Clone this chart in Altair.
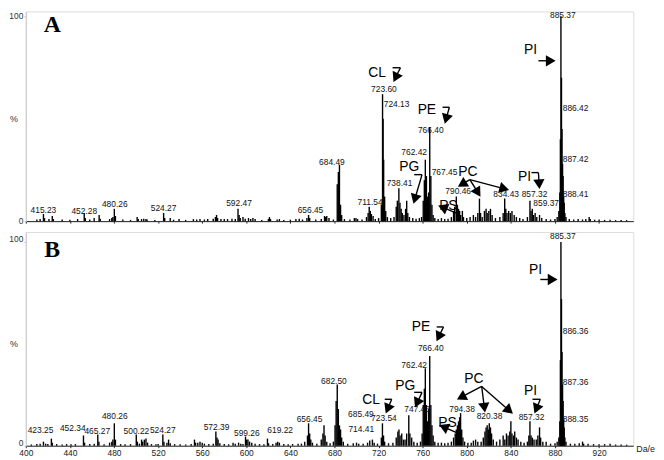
import math
import altair as alt
import pandas as pd

# ---------------- data ----------------
a_mz = [410, 413, 416, 417, 421, 424, 425, 433, 440, 447, 453, 454, 458, 462, 466.5, 467.5, 476, 478, 479, 480.3, 481.3,
        488, 495, 501, 502, 505, 507, 509, 510, 517, 525, 526, 531, 534, 539, 545, 552, 555, 558, 562, 565, 570, 572, 573,
        574, 577, 580, 583, 587, 590, 592.5, 593.5, 594.5, 597, 599, 602, 604, 606, 608, 614, 620, 621, 622, 628, 630, 634,
        640, 645, 648, 651, 655, 656.5, 657.5, 663, 668, 671, 672, 673, 675, 679, 682.5, 683.5, 684.5, 685.5, 686.5, 689,
        694, 698, 699.5, 701, 705, 709, 710.5, 711.5, 712.5, 713.5, 715, 717, 720, 722.5, 723.6, 724.1, 724.6, 725.5, 726.5,
        728, 731, 734, 736, 737, 738.4, 739.4, 740.5, 741.5, 743, 744.5, 745.5, 746.5, 748, 751, 754, 757, 759, 760.5, 761.5,
        762.4, 763.4, 764.4, 765.4, 766.4, 767.4, 768.4, 769.5, 771, 774, 777, 780, 783, 786, 788, 789, 790.5, 791.5, 792.5,
        793.5, 794.5, 796, 797, 800, 803, 806, 808, 810, 811.5, 812.5, 814, 816, 817.5, 818.5, 820, 821.5, 823, 826, 830,
        833, 834.4, 835.4, 836.5, 838, 839.5, 841, 843, 845, 848, 851, 855, 857.3, 858.3, 859.4, 860.5, 862, 863.5, 866,
        868, 872, 876, 880, 882, 883.5, 884.4, 884.9, 885.4, 885.9, 886.4, 886.9, 887.4, 887.9, 888.4, 889, 890, 893, 897,
        901, 905, 908, 911, 912, 916, 920, 925, 930, 935, 940, 945]
a_int = [0.8, 1, 3.5, 1.5, 1, 2.5, 1, 0.8, 0.7, 1, 4, 1.5, 0.8, 1.5, 3, 1.2, 1, 1.5, 2, 6, 2.5,
         0.8, 0.6, 2, 1, 1, 1.2, 1, 0.8, 0.6, 4, 1.5, 1.5, 0.7, 1, 0.6, 1, 0.8, 1, 0.8, 1, 1.2, 2, 3,
         1.5, 1, 1, 1, 1.2, 1, 6, 3, 1.5, 2, 1.2, 1.5, 1, 1.5, 1, 0.6, 1, 2, 1, 0.8, 1, 0.6,
         0.7, 1, 1.2, 0.8, 1.5, 3, 1.5, 0.8, 1, 2.5, 2, 2.5, 1.5, 0.8, 18, 24, 27.5, 8, 3, 1,
         0.8, 1.5, 1.5, 1, 0.8, 2, 4, 7, 5, 3.5, 2.5, 1, 1.5, 8, 62, 50, 30, 12, 5,
         2, 1.5, 2, 7, 10, 16, 9, 6, 4, 3, 6, 10, 4, 2, 1.5, 1.2, 1.5, 2, 10, 20,
         30, 22, 12, 14, 46, 22, 8, 3, 1.5, 1, 1.5, 1, 1.2, 2, 5, 7, 12, 8, 6,
         5, 3, 5, 2, 1.5, 2, 3, 2, 4, 11, 4, 2, 5, 6, 4, 5, 6, 3, 1.5, 2,
         4, 11, 6, 4, 5, 4, 5, 3, 2, 1.5, 1, 2, 10, 5, 6, 3, 4, 2, 3,
         1.5, 1, 0.8, 1, 2, 5, 14, 40, 100, 70, 45, 28, 22, 12, 9, 4, 2, 1, 0.8,
         1, 0.8, 1, 2, 1, 0.7, 0.8, 0.6, 0.7, 0.5, 0.6, 0.5]

b_mz = [405, 410, 413, 416, 418, 420, 423.2, 424, 428, 433, 437, 441, 445, 452.3, 453.3, 458, 462, 465.3, 466.3, 471,
        476, 478, 479, 480.3, 481.3, 486, 490, 495, 500.2, 501.2, 503, 505, 506, 507.5, 509, 510.5, 514, 518, 520, 524.3,
        525.3, 528, 529.5, 531, 535, 540, 545, 550, 553, 554, 556, 558, 560, 562, 566, 570, 572.4, 573.4, 574.4, 576, 580,
        584, 588, 590, 593, 595, 597, 599.3, 600.3, 601.5, 603, 605, 608, 612, 616, 619.2, 620.2, 624, 627, 628.5, 630, 634,
        638, 642, 647, 650, 653, 655.5, 656.5, 657.5, 658.5, 660, 664, 668, 669.5, 670.5, 671.5, 673, 676, 679, 680.5,
        681.5, 682.5, 683.5, 684.5, 685.5, 686.5, 688, 692, 697, 700, 702, 706, 710, 712, 714.4, 716, 719, 722.5, 723.5,
        724.5, 725.5, 729, 733, 736, 737.5, 738.5, 739.5, 741, 742.5, 744, 745.5, 747.4, 748.4, 750, 752, 755, 758, 759.5,
        760.5, 761.5, 762.4, 763.4, 764.4, 765.4, 766.4, 767.4, 768.4, 769.5, 771, 774, 777, 780, 783, 786, 788, 789.5,
        790.5, 791.5, 792.5, 793.5, 794.4, 795.4, 796.5, 798, 801, 804, 806, 808, 810, 813, 815, 816.5, 817.5, 818.5,
        819.5, 820.4, 821.5, 822.5, 824, 827, 830, 833, 834.5, 836, 837.5, 839, 840, 841, 842.5, 843.5, 845, 846.5, 849,
        852, 855, 856.3, 857.3, 858.3, 859.5, 861, 863, 864.5, 866, 867, 869, 872, 876, 880, 882, 883.5, 884.4, 884.9,
        885.4, 885.9, 886.4, 886.9, 887.4, 887.9, 888.4, 889, 890, 894, 898, 902, 905, 906, 910, 915, 920, 925, 930, 935,
        940, 945]
b_int = [0.6, 0.8, 1, 2, 1, 0.8, 3.5, 1.5, 0.8, 0.6, 0.8, 0.7, 0.8, 5, 1.5, 0.8, 1, 5.5, 2, 0.7,
         1.5, 2, 3, 11, 3, 0.8, 0.7, 0.8, 5.5, 2, 1, 3, 2, 3, 3.5, 1.5, 0.8, 0.7, 0.8, 5.5,
         2, 1.5, 3, 1.2, 0.8, 0.7, 0.6, 0.8, 3, 1.5, 1.5, 2, 1.5, 1, 0.8, 1, 7, 4, 3, 1.2, 0.8,
         0.7, 1.5, 1, 1.5, 1, 0.8, 4.5, 3, 3, 2, 1.5, 1, 0.8, 0.7, 3.5, 1.2, 0.8, 1.5, 2, 1.5, 0.8,
         0.7, 0.8, 1, 1, 2, 5, 11, 6, 3, 1.5, 1, 3, 6, 10, 5, 2, 1.2, 2, 10,
         22, 30, 18, 10, 8, 4, 2, 1, 1.2, 1.5, 1, 1, 1.5, 2.5, 3, 1.5, 1, 4, 11,
         5, 2, 1.2, 1.5, 4, 7, 8, 5, 6, 3, 3, 6, 15, 6, 4, 2, 1.5, 2, 6,
         20, 28, 38, 20, 12, 18, 44, 20, 10, 5, 2, 1.5, 1.5, 1.2, 1.5, 2, 4, 6,
         8, 10, 12, 14, 16, 8, 4, 2, 1.5, 1.5, 2.5, 3, 2, 2, 4, 7, 9, 10,
         8, 11, 9, 6, 3, 2, 3, 5, 3, 6, 5, 7, 12, 6, 5, 7, 4, 3, 2,
         1.5, 2, 5, 12, 5, 4, 3, 3, 5, 9, 4, 2, 2, 1, 1.2, 2, 4, 12, 42,
         100, 72, 46, 30, 22, 13, 9, 4, 2, 1, 1, 1.2, 2, 1, 1, 0.8, 0.7, 0.8, 1, 0.6,
         0.6, 0.5]

# peak labels (text, m/z position, % position)
a_lab_text = ["415.23", "452.28", "480.26", "524.27", "592.47", "656.45", "684.49", "711.54", "723.60", "724.13",
              "738.41", "762.42", "766.40", "767.45", "790.46", "834.43", "857.32", "859.37", "885.37", "886.42",
              "887.42", "888.41"]
a_lab_x = [416, 453, 480.7, 525, 593.4, 658.2, 677.7, 712.3, 724.8, 736.3,
           739, 752.3, 767.3, 779.8, 792.2, 835.7, 861.4, 872, 887.1, 898.7, 898.7, 898.7]
a_lab_y = [5.3, 4.8, 8.2, 6.3, 8.7, 5.3, 29, 9.2, 64.3, 57,
           18.4, 33.8, 44.4, 24.2, 14.8, 13, 13, 8.7, 101.9, 55, 30.4, 13]

b_lab_text = ["423.25", "452.34", "465.27", "480.26", "500.22", "524.27", "572.39", "599.26", "619.22", "656.45",
              "682.50", "685.49", "714.41", "723.54", "747.43", "762.42", "766.40", "794.38", "820.38", "857.32",
              "885.37", "886.36", "887.36", "888.35"]
b_lab_x = [413.3, 442.6, 464.8, 480.7, 500.3, 524.2, 573, 600.5, 630.7, 657.3,
           679.5, 704, 704.3, 724.8, 754.9, 752.3, 767.3, 795.7, 820.6, 858.7,
           887.1, 898.7, 898.7, 898.7]
b_lab_y = [7.8, 8.7, 7.3, 14.6, 7.3, 7.8, 9.2, 6.3, 7.8, 13.1,
           31.6, 15.6, 8.0, 13.6, 18, 39.8, 48.1, 18, 14.6, 14.1,
           102.4, 56.3, 31.1, 13.1]

# lipid class annotations
a_ann_text = ["CL", "PE", "PG", "PC", "PS", "PI", "PI"]
a_ann_x = [718.6, 763.8, 747.8, 801, 783.3, 857.9, 852.5]
a_ann_y = [72.5, 54.1, 26.6, 24.2, 7.6, 83.6, 21.7]

b_ann_text = ["CL", "PE", "PG", "PC", "PS", "PI", "PI"]
b_ann_x = [713.2, 758.5, 744.3, 806.4, 782.4, 862.3, 857.9]
b_ann_y = [22.2, 58.3, 29.1, 32.5, 11.2, 86.4, 26.7]

# arrows: polylines of (m/z, %) points, head at last point
a_arrows = [
    [(732.7, 74.9), (739.8, 74.9), (734.5, 69.1)],   # CL
    [(778.0, 55.6), (784.2, 55.6), (780.7, 48.8)],   # PE
    [(752.3, 22.7), (759.4, 22.7), (752.3, 9.7)],    # PG
    [(802.8, 20.3), (793.9, 17.4)],                  # PC
    [(802.8, 20.3), (811.2, 13.0)],                  # PC
    [(802.8, 20.3), (836.1, 15.5)],                  # PC
    [(790.4, 3.9), (776.2, 7.2)],                    # PS
    [(865.0, 78.3), (878.3, 78.3)],                  # PI
    [(858.7, 23.7), (865.0, 23.7), (865.8, 16.9)],   # PI
]
b_arrows = [
    [(772.7, 58.3), (778.9, 58.3), (773.6, 52.4)],   # PE
    [(752.3, 26.2), (759.4, 26.2), (754.0, 19.9)],   # PG
    [(725.6, 22.8), (731.9, 22.8), (727.4, 17.0)],   # CL
    [(813.5, 29.1), (793.1, 23.3)],                  # PC
    [(813.5, 29.1), (816.2, 17.5)],                  # PC
    [(813.5, 29.1), (840.1, 16.5)],                  # PC
    [(791.3, 6.3), (777.1, 9.7)],                    # PS
    [(866.7, 81.6), (880.0, 81.6)],                  # PI
    [(859.6, 22.8), (866.7, 22.8), (862.3, 17.0)],   # PI
]

# ---------------- layout / style ----------------
X_DOMAIN = [400, 951]
W = 614
FONT = "Liberation Sans"
xs = alt.Scale(domain=X_DOMAIN, nice=False, zero=False)


def arrow_frames(arrows, sx, sy, back=4.0):
    segs, heads = [], []
    for pts in arrows:
        for i in range(len(pts) - 1):
            (x1, y1), (x2, y2) = pts[i], pts[i + 1]
            if i == len(pts) - 2:
                dxp, dyp = (x2 - x1) * sx, (y2 - y1) * sy
                L = math.hypot(dxp, dyp)
                ux, uy = dxp / L, dyp / L
                cx, cy = x2 - back * ux / sx, y2 - back * uy / sy
                ang = math.degrees(math.atan2(ux, uy)) % 360
                heads.append({"x": cx, "y": cy, "ang": ang})
                segs.append({"x": x1, "y": y1, "x2": cx, "y2": cy})
            else:
                segs.append({"x": x1, "y": y1, "x2": x2, "y2": y2})
    return pd.DataFrame(segs), pd.DataFrame(heads)


def panel(mz, inten, lt, lx, ly, at, ax, ay, arrows, letter, ytop, H, bottom):
    ys = alt.Scale(domain=[0, ytop], nice=False, zero=True)
    sx = W / (X_DOMAIN[1] - X_DOMAIN[0])
    sy = H / ytop
    peaks = pd.DataFrame({"x": mz, "y": inten, "y0": [0] * len(mz)})
    if bottom:
        xaxis = alt.Axis(values=list(range(400, 941, 10)), title=None, grid=False, tickSize=2,
                         labelPadding=1, labelFontSize=8.5, labelFont=FONT, labelColor="#222",
                         domainColor="#222", tickColor="#222", labelOverlap=False, labelFlush=False,
                         labelExpr="datum.value % 20 == 0 ? datum.label : ''")
    else:
        xaxis = alt.Axis(values=list(range(400, 951, 10)), title=None, grid=False, tickSize=2,
                         labels=False, domainColor="#222", tickColor="#222")
    yaxis = alt.Axis(values=[0, 100], title=None, grid=False, tickSize=2, labelPadding=1,
                     labelFontSize=8.5, labelFont=FONT, labelColor="#333",
                     labelOffset=(-3 if bottom else -1),
                     domainColor="#c8c8c8", tickColor="#c8c8c8")
    base = alt.Chart(peaks).mark_rule(color="black", strokeWidth=1.4).encode(
        x=alt.X("x:Q", scale=xs, axis=xaxis),
        y=alt.Y("y:Q", scale=ys, axis=yaxis),
        y2="y0:Q",
    )
    labs = pd.DataFrame({"x": lx, "y": ly, "t": lt})
    top_lab = labs[labs["y"] > 100]
    rest = labs[labs["y"] <= 100]
    lab_layer = alt.Chart(rest).mark_text(font=FONT, fontSize=8.5, color="#111").encode(
        x="x:Q", y="y:Q", text="t:N")
    top_layer = alt.Chart(top_lab).mark_text(font=FONT, fontSize=8.5, color="#111", baseline="top").encode(
        x="x:Q", y=alt.datum(ytop), text="t:N")
    anns = pd.DataFrame({"x": ax, "y": ay, "t": at})
    ann_layer = alt.Chart(anns).mark_text(font=FONT, fontSize=14, color="black").encode(
        x="x:Q", y="y:Q", text="t:N")
    segs, heads = arrow_frames(arrows, sx, sy)
    seg_layer = alt.Chart(segs).mark_rule(color="black", strokeWidth=1.4).encode(
        x="x:Q", y="y:Q", x2="x2:Q", y2="y2:Q")
    head_layer = alt.Chart(heads).mark_point(shape="triangle", filled=True, color="black",
                                              opacity=1, size=130, strokeWidth=0).encode(
        x="x:Q", y="y:Q", angle=alt.Angle("ang:Q", scale=None))
    let_layer = alt.Chart(pd.DataFrame({"t": [letter]})).mark_text(
        font="Liberation Serif", fontWeight="bold", fontSize=24, color="black").encode(
        x=alt.datum(424), y=alt.datum(95.8), text="t:N")
    pct_layer = alt.Chart(pd.DataFrame({"t": ["%"]})).mark_text(
        font=FONT, fontSize=9, color="#333").encode(
        x=alt.value(-12), y=alt.datum(50), text="t:N")
    layers = [base, lab_layer, top_layer, ann_layer, seg_layer, head_layer, let_layer, pct_layer]
    if bottom:
        da_layer = alt.Chart(pd.DataFrame({"t": ["Da/e"]})).mark_text(
            font=FONT, fontSize=9, color="#222", align="left", dy=3).encode(
            x=alt.value(W + 3), y=alt.datum(0), text="t:N")
        layers.append(da_layer)
    return alt.layer(*layers).properties(width=W, height=H)


pA = panel(a_mz, a_int, a_lab_text, a_lab_x, a_lab_y, a_ann_text, a_ann_x, a_ann_y, a_arrows, "A",
           102.4, 212, False)
pB = panel(b_mz, b_int, b_lab_text, b_lab_x, b_lab_y, b_ann_text, b_ann_x, b_ann_y, b_arrows, "B",
           104.9, 216, True)

chart = alt.vconcat(pA, pB, spacing=6).properties(
    padding={"left": 0, "top": 0, "right": 0, "bottom": 0}
).configure_view(stroke=None).configure(background="white")

chart.save("out.html", embed_options={"renderer": "svg", "actions": False})
